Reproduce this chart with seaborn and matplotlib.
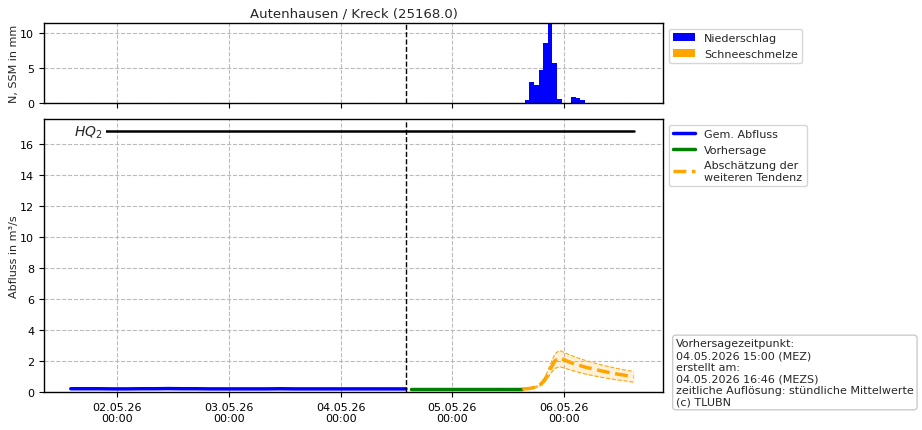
import numpy as np
import pandas as pd
import matplotlib
matplotlib.use('Agg')
import matplotlib.pyplot as plt
import matplotlib.dates as mdates
import seaborn as sns

# Daten
titel = 'Autenhausen / Kreck (25168.0)'
vorhersage_linie = pd.Timestamp('2026-05-04 14:00')
hq2 = 16.8

# Niederschlag (stündlich), nur Stunden mit Werten
n_zeit = pd.to_datetime(['2026-05-05 16:00', '2026-05-05 17:00', '2026-05-05 18:00',
                         '2026-05-05 19:00', '2026-05-05 20:00', '2026-05-05 21:00',
                         '2026-05-05 22:00', '2026-05-05 23:00', '2026-05-06 02:00',
                         '2026-05-06 03:00', '2026-05-06 04:00'])
n_werte = [0.45, 3.0, 2.6, 4.7, 8.6, 11.43, 5.7, 0.6, 0.9, 0.7, 0.4]
ssm_werte = [0.0] * len(n_werte)

# Gemessener Abfluss, 3-stündlich 01.05. 14:00 - 04.05. 14:00
gem_zeit = pd.date_range('2026-05-01 14:00', '2026-05-04 14:00', freq='3h')
gem_werte = [0.21, 0.21, 0.21, 0.20, 0.20, 0.21, 0.21, 0.22, 0.21, 0.21,
             0.20, 0.20, 0.20, 0.20, 0.20, 0.21, 0.20, 0.20, 0.20, 0.20,
             0.20, 0.20, 0.20, 0.20, 0.20]

# Vorhersage, 3-stündlich 04.05. 15:00 - 05.05. 15:00
vh_zeit = pd.date_range('2026-05-04 15:00', '2026-05-05 15:00', freq='3h')
vh_werte = [0.20, 0.20, 0.20, 0.20, 0.20, 0.20, 0.20, 0.20, 0.20]

# Abschätzung der weiteren Tendenz, stündlich 05.05. 15:00 - 06.05. 15:00
tend_zeit = pd.date_range('2026-05-05 15:00', '2026-05-06 15:00', freq='1h')
tend_werte = [0.20, 0.21, 0.25, 0.32, 0.50, 0.85, 1.45, 2.00, 2.20, 2.08,
              1.95, 1.84, 1.74, 1.65, 1.57, 1.50, 1.43, 1.36, 1.30, 1.24,
              1.18, 1.13, 1.08, 1.03, 0.98]
tend_oben = [0.20, 0.22, 0.27, 0.36, 0.58, 1.00, 1.75, 2.45, 2.68, 2.55,
             2.42, 2.30, 2.19, 2.09, 2.00, 1.91, 1.83, 1.75, 1.68, 1.61,
             1.54, 1.48, 1.42, 1.37, 1.33]
tend_unten = [0.20, 0.20, 0.23, 0.28, 0.42, 0.70, 1.15, 1.52, 1.63, 1.55,
              1.45, 1.36, 1.28, 1.20, 1.13, 1.07, 1.01, 0.95, 0.90, 0.85,
              0.80, 0.76, 0.72, 0.67, 0.63]

info = ('Vorhersagezeitpunkt:\n04.05.2026 15:00 (MEZ)\nerstellt am:\n'
        '04.05.2026 16:46 (MEZS)\nzeitliche Auflösung: stündliche Mittelwerte\n(c) TLUBN')

sns.set_theme(style='ticks', rc={'axes.grid': True, 'grid.linestyle': '--',
                                 'grid.color': '#bbbbbb', 'grid.linewidth': 0.8,
                                 'axes.edgecolor': 'black', 'xtick.color': 'black',
                                 'ytick.color': 'black', 'axes.linewidth': 1.0,
                                 'xtick.major.size': 3.5, 'ytick.major.size': 3.5,
                                 'xtick.major.width': 0.8, 'ytick.major.width': 0.8})
plt.rcParams['font.family'] = ['DejaVu Sans']
plt.rcParams['font.size'] = 8

fig = plt.figure(figsize=(9.22, 4.31), dpi=100)
ax1 = fig.add_axes([44 / 922, 1 - 104 / 431, 619 / 922, 80 / 431])
ax2 = fig.add_axes([44 / 922, 1 - 393 / 431, 619 / 922, 273 / 431], sharex=ax1)

# oben: Niederschlag / Schneeschmelze
ax1.bar(n_zeit, n_werte, width=1 / 24, color='blue', lw=0, label='Niederschlag')
ax1.bar(n_zeit, ssm_werte, width=1 / 24, bottom=n_werte, color='orange', lw=0,
        label='Schneeschmelze')
ax1.axvline(vorhersage_linie, color='black', ls='--', lw=1)
ax1.set_ylim(0, 11.43)
ax1.set_yticks([0, 5, 10])
ax1.set_ylabel('N, SSM in mm', fontsize=8, labelpad=1)
ax1.set_title(titel, fontsize=9.5, pad=5)
ax1.tick_params(labelbottom=False, labelsize=8)
ax1.legend(loc='upper left', bbox_to_anchor=(1.0, 1.0), fontsize=8)

# unten: Abfluss
df_gem = pd.DataFrame({'zeit': gem_zeit, 'wert': gem_werte})
df_vh = pd.DataFrame({'zeit': vh_zeit, 'wert': vh_werte})
df_tend = pd.DataFrame({'zeit': tend_zeit, 'wert': tend_werte})

ax2.fill_between(tend_zeit, tend_unten, tend_oben, color='orange', alpha=0.15, lw=0)
ax2.plot(tend_zeit, tend_oben, color='orange', ls='--', lw=0.8)
ax2.plot(tend_zeit, tend_unten, color='orange', ls='--', lw=0.8)
sns.lineplot(data=df_gem, x='zeit', y='wert', ax=ax2, color='blue', lw=2.5, label='Gem. Abfluss')
sns.lineplot(data=df_vh, x='zeit', y='wert', ax=ax2, color='green', lw=2.5, label='Vorhersage')
sns.lineplot(data=df_tend, x='zeit', y='wert', ax=ax2, color='orange', lw=2.5, ls='--',
             label='Abschätzung der\nweiteren Tendenz')
ax2.plot([gem_zeit[0] + pd.Timedelta(hours=2), tend_zeit[-1]], [hq2, hq2], color='black', lw=1.8)
ax2.text(gem_zeit[0] + pd.Timedelta(hours=0.6), hq2, '$HQ_2$', fontsize=10, va='center',
         ha='left', zorder=2.2, bbox=dict(facecolor='white', edgecolor='none', pad=3))
ax2.axvline(vorhersage_linie, color='black', ls='--', lw=1)
ax2.set_ylim(0, 17.6)
ax2.set_yticks(range(0, 17, 2))
ax2.set_xlim(pd.Timestamp('2026-05-01 08:15'), pd.Timestamp('2026-05-06 21:15'))
ax2.set_xlabel('')
ax2.set_ylabel('Abfluss in m³/s', fontsize=8, labelpad=1)
ax2.tick_params(labelsize=8)
ax2.xaxis.set_major_locator(mdates.DayLocator())
ax2.xaxis.set_major_formatter(mdates.DateFormatter('%d.%m.%y\n%H:%M'))
for lbl in ax2.get_xticklabels():
    lbl.set_ha('center')
ax2.legend(loc='upper left', bbox_to_anchor=(1.0, 1.0), fontsize=8)

ax2.text(1.021, -0.053, info, transform=ax2.transAxes, fontsize=8, va='bottom', ha='left',
         bbox=dict(boxstyle='round,pad=0.3', facecolor='white', edgecolor='#cccccc'))

fig.savefig('out.png', dpi=100)
